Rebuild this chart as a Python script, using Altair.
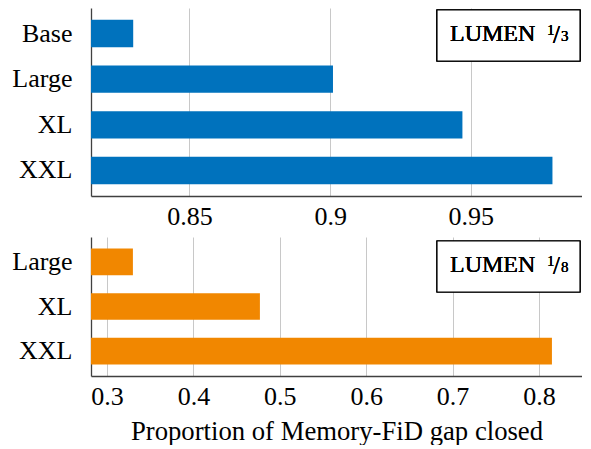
import altair as alt
import pandas as pd

# ---- data ----
sizes_top = ["Base", "Large", "XL", "XXL"]
vals_top = [0.830, 0.901, 0.947, 0.979]
sizes_bot = ["Large", "XL", "XXL"]
vals_bot = [0.330, 0.477, 0.815]
ticks_top = [0.85, 0.90, 0.95]
ticks_bot = [0.3, 0.4, 0.5, 0.6, 0.7, 0.8]
panel_names = ["LUMEN", "LUMEN"]
frac_num = ["1", "1"]
frac_den = ["3", "8"]
x_title = "Proportion of Memory-FiD gap closed"

BLUE = "#0072BD"
ORANGE = "#F18700"
FONT = "Liberation Serif"
W = 491


def panel(sizes, vals, color, domain, ticks, fmt, name, num, den, height, show_title, box_top):
    df = pd.DataFrame({"size": sizes, "value": vals})
    x_axis = alt.Axis(
        values=ticks, format=fmt, grid=True, ticks=False, labelPadding=7,
        labelFont=FONT, labelFontSize=26, labelColor="black", labelFlush=False,
        titleFont=FONT, titleFontSize=26.7, titleColor="black", titleFontWeight="normal",
        domainColor="#404040", domainWidth=1.3, gridColor="#c8c8c8", gridWidth=1,
        title=x_title if show_title else None, titlePadding=9,
    )
    y_axis = alt.Axis(
        title=None, ticks=False, labelPadding=19, grid=False, minExtent=81, maxExtent=81,
        labelFont=FONT, labelFontSize=26, labelColor="black",
        domainColor="#404040", domainWidth=1.3,
    )
    bars = alt.Chart(df).mark_bar(color=color).encode(
        x=alt.X("value:Q", scale=alt.Scale(domain=domain, zero=False, nice=False), axis=x_axis),
        x2=alt.datum(domain[0]),
        y=alt.Y("size:N", sort=sizes,
                scale=alt.Scale(paddingInner=0.4, paddingOuter=0.26), axis=y_axis),
    )
    box = alt.Chart(df).mark_rect(fill="white", stroke="black", strokeWidth=1.2).encode(
        x=alt.value(346), x2=alt.value(489),
        y=alt.value(box_top), y2=alt.value(box_top + 51),
    )
    common = dict(font=FONT, align="left", baseline="alphabetic", color="black")
    t_name = alt.Chart(df).mark_text(fontSize=24, **common).encode(
        x=alt.value(359), y=alt.value(box_top + 31), text=alt.value(name))
    t_num = alt.Chart(df).mark_text(fontSize=15, **common).encode(
        x=alt.value(456), y=alt.value(box_top + 25), text=alt.value(num))
    t_slash = alt.Chart(df).mark_text(fontSize=25, **common).encode(
        x=alt.value(462), y=alt.value(box_top + 33), text=alt.value("/"))
    t_den = alt.Chart(df).mark_text(fontSize=15, **common).encode(
        x=alt.value(470), y=alt.value(box_top + 31), text=alt.value(den))
    return alt.layer(bars, box, t_name, t_num, t_slash, t_den).properties(width=W, height=height)


top = panel(sizes_top, vals_top, BLUE, [0.815, 0.9895], ticks_top, ".2~f",
            panel_names[0], frac_num[0], frac_den[0], 188, False, 2)
bot = panel(sizes_bot, vals_bot, ORANGE, [0.2815, 0.8498], ticks_bot, ".1f",
            panel_names[1], frac_num[1], frac_den[1], 139, True, 4)

chart = alt.vconcat(top, bot, spacing=8).properties(
    padding={"left": 2, "top": 0, "right": 0, "bottom": 0}
).configure(font=FONT).configure_view(stroke=None)

chart.save("out.html", embed_options={"renderer": "svg", "actions": False})
